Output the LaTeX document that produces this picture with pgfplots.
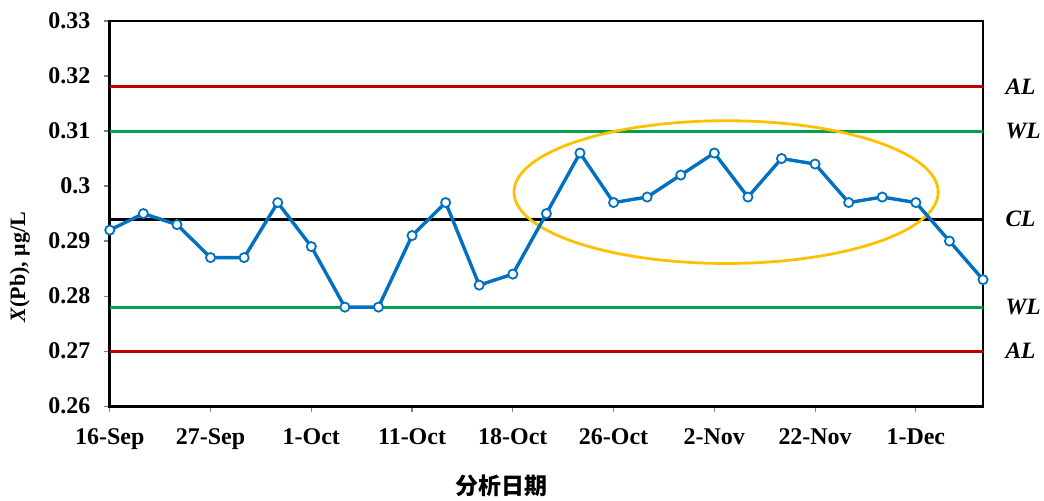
\documentclass[border=0pt]{standalone}
\usepackage{fontspec}
\setmainfont{Liberation Serif}
\newfontfamily\cjk{Noto Sans CJK SC}
\usepackage{pgfplots}
\pgfplotsset{compat=1.18}
\definecolor{dblue}{RGB}{0,112,192}
\definecolor{dred}{RGB}{192,0,0}
\definecolor{dgreen}{RGB}{0,160,80}
\definecolor{dgold}{RGB}{255,192,0}
\begin{document}
\begin{tikzpicture}
\begin{axis}[
  scale only axis,
  width=875bp, height=386bp,
  xmin=0, xmax=26, ymin=0.26, ymax=0.33,
  xtick={0,3,...,24},
  xticklabels={16-Sep,27-Sep,1-Oct,11-Oct,18-Oct,26-Oct,2-Nov,22-Nov,1-Dec},
  ytick={0.26,0.27,...,0.331},
  yticklabels={0.26,0.27,0.28,0.29,0.3,0.31,0.32,0.33},
  tick align=outside,
  tick pos=left,
  major tick length=6bp,
  tick style={gray, line width=1.2bp},
  axis line style={black, line width=2.8bp},
  ticklabel style={font=\fontsize{24bp}{26bp}\selectfont\bfseries},
  /pgf/number format/assume math mode=true,
  xticklabel style={yshift=-13bp},
  yticklabel style={xshift=-10bp},
  every axis x label/.style={at={(axis description cs:0.449,0)}, anchor=center, yshift=-80bp},
  xlabel={\fontsize{23bp}{25bp}\selectfont\cjk\bfseries 分析日期},
  every axis y label/.style={at={(axis description cs:-0.103,0.36)}, rotate=90, anchor=center},
  ylabel={\fontsize{22bp}{24bp}\selectfont\bfseries\textit{X}(Pb), μg/L},
  clip=false,
]
\addplot[dred, line width=3bp] coordinates {(0,0.318) (26,0.318)};
\addplot[dgreen, line width=3bp] coordinates {(0,0.310) (26,0.310)};
\addplot[black, line width=3bp] coordinates {(0,0.294) (26,0.294)};
\addplot[dgreen, line width=3bp] coordinates {(0,0.278) (26,0.278)};
\addplot[dred, line width=3bp] coordinates {(0,0.270) (26,0.270)};
\draw[dgold, line width=2.8bp] (axis cs:18.35,0.2989) ellipse [x radius=212.5bp, y radius=71.5bp];
\addplot[dblue, line width=3.4bp, mark=*, mark size=4.6bp,
  mark options={fill=white, draw=dblue, line width=1.8bp}] coordinates {
(0,0.292) (1,0.295) (2,0.293) (3,0.287) (4,0.287) (5,0.297) (6,0.289)
(7,0.278) (8,0.278) (9,0.291) (10,0.297) (11,0.282) (12,0.284) (13,0.295)
(14,0.306) (15,0.297) (16,0.298) (17,0.302) (18,0.306) (19,0.298) (20,0.305)
(21,0.304) (22,0.297) (23,0.298) (24,0.297) (25,0.290) (26,0.283)};
\begin{scope}[every node/.style={anchor=west, font=\fontsize{23.5bp}{25bp}\selectfont\bfseries\itshape}]
\node at (axis cs:26,0.318) [xshift=19bp] {AL};
\node at (axis cs:26,0.310) [xshift=19bp] {WL};
\node at (axis cs:26,0.294) [xshift=19bp] {CL};
\node at (axis cs:26,0.278) [xshift=19bp] {WL};
\node at (axis cs:26,0.270) [xshift=19bp] {AL};
\end{scope}
\end{axis}
\path (current axis.south west) ++(-110bp,-90bp) coordinate (bbsw);
\path (current axis.north east) ++(59bp,21bp) coordinate (bbne);
\useasboundingbox (bbsw) rectangle (bbne);
\end{tikzpicture}
\end{document}
